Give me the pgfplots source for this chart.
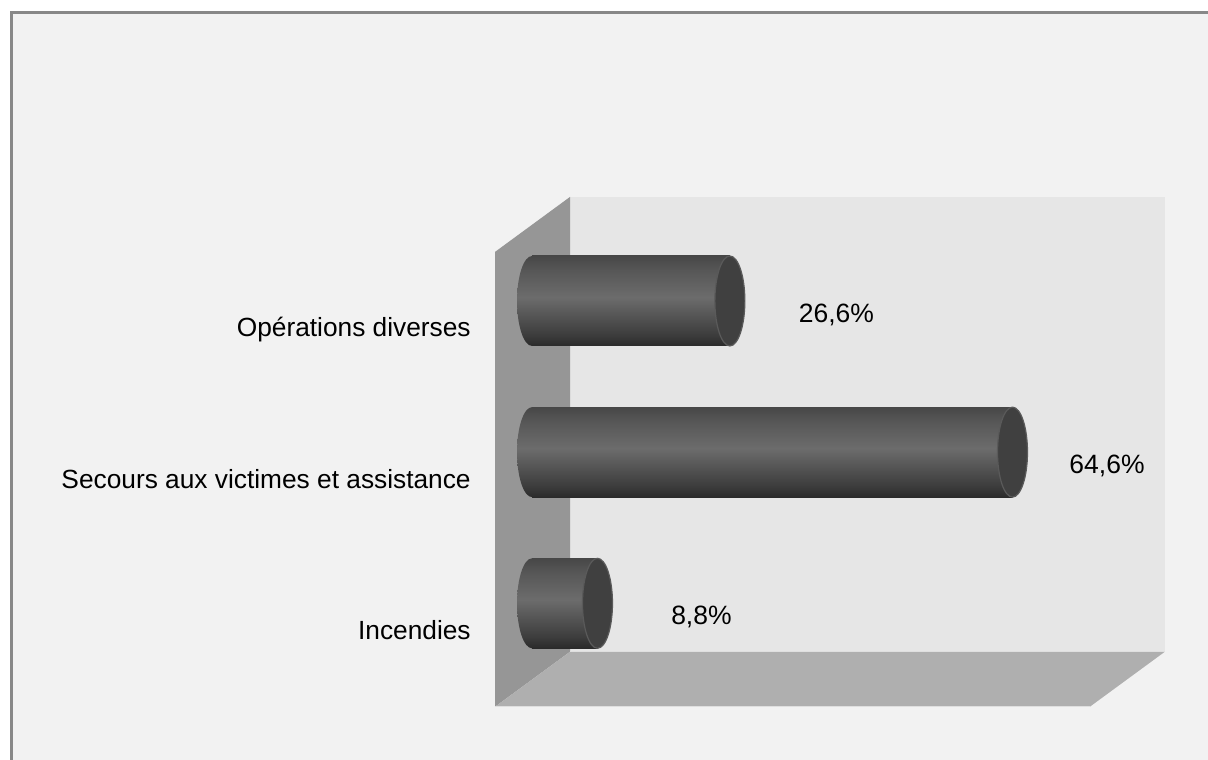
\documentclass[border=0pt]{standalone}
\usepackage{pgfplots}
\usepackage{pgfplotstable}
\pgfplotsset{compat=1.18}
\usepackage{fontspec}
\setmainfont{Liberation Sans}
\definecolor{cbot}{HTML}{2A2A2A}
\definecolor{clow}{HTML}{3C3C3C}
\definecolor{cmid}{HTML}{6C6C6C}
\definecolor{chi}{HTML}{575757}
\definecolor{ctop}{HTML}{474747}
\definecolor{capfill}{HTML}{404040}
\definecolor{capline}{HTML}{5A5A5A}
\definecolor{bgfill}{HTML}{F2F2F2}
\definecolor{frameline}{HTML}{888888}
\definecolor{backwall}{HTML}{E6E6E6}
\definecolor{sidewall}{HTML}{969696}
\definecolor{floorc}{HTML}{AFAFAF}
\pgfdeclareverticalshading{cyl}{100bp}{color(0bp)=(cbot); color(25bp)=(cbot); color(31bp)=(clow); color(52bp)=(cmid); color(67bp)=(chi); color(75bp)=(ctop); color(100bp)=(ctop)}
\pgfdeclareplotmark{cylend}{%
  \pgfpathellipse{\pgfpointorigin}{\pgfqpoint{7.5bp}{0bp}}{\pgfqpoint{0bp}{22.5bp}}%
  \pgfshadepath{cyl}{0}\pgfusepath{}}
\pgfdeclareplotmark{cylcap}{%
  \pgfpathellipse{\pgfpointorigin}{\pgfqpoint{7.5bp}{0bp}}{\pgfqpoint{0bp}{22.5bp}}%
  \pgfusepath{fill,stroke}}
\pgfplotstableread{
y  v  z
0  8.8  0
1  64.6 0
2  26.6 0
}\datatable
\pgfplotstableread{
y v
0 8.8
}\incendies
\pgfplotstableread{
y v
1 64.6
}\secours
\pgfplotstableread{
y v
2 26.6
}\operations
\pgfplotsset{
  capplot/.style={only marks, mark=cylcap,
    mark options={fill=capfill, draw=capline, line width=0.6bp},
    point meta=x,
    nodes near coords={\pgfmathprintnumber[use comma,fixed,fixed zerofill,precision=1,assume math mode=true]{\pgfplotspointmeta}\%},
    every node near coord/.append style={anchor=base west, inner sep=0pt, yshift=-10.75bp,
      font=\fontsize{13.3}{16}\selectfont, text=black}},
  cylbar/.style={xbar, bar shift=0pt, bar width=0.595, draw=none, shade, shading=cyl},
}
\begin{document}
\begin{tikzpicture}
\begin{scope}[x=0.5bp,y=-0.5bp]
  \fill[white] (0,0) rectangle (1208,760);
  \useasboundingbox (0,0) rectangle (1208,760);
  \filldraw[fill=bgfill, draw=frameline, line width=1.25bp] (11.3,12.3) rectangle (1230,790);
  \fill[backwall] (570,197) rectangle (1165,652);
  \fill[sidewall] (495,252) -- (570,197) -- (570,652) -- (495,707) -- cycle;
  \fill[floorc] (495,707) -- (570,652) -- (1165,652) -- (1090,707) -- cycle;
  \draw[white!60!floorc, line width=0.6bp] (570,652) -- (1165,652);
  \draw[white!60!floorc, line width=0.6bp] (495,707) -- (1090,707);
\end{scope}
\begin{axis}[
  at={(0,0)}, anchor=north west,
  scale only axis, width=604bp, height=380bp,
  xmin=-71.505, xmax=90.86, ymin=-1.035, ymax=3.991,
  clip=false,
  axis line style={draw=none},
  xtick=\empty,
  ytick={0,1,2},
  yticklabels={Incendies, Secours aux victimes et assistance, Opérations diverses},
  major tick length=0pt,
  yticklabel style={anchor=base east, inner sep=0pt, xshift=235.5bp, yshift=-18bp,
    font=\fontsize{13.2}{16}\selectfont, text=black},
  /pgf/number format/assume math mode=true,
]
\addplot[only marks, mark=cylend] table[x=z, y=y] {\datatable};
\addplot[cylbar] table[x=v, y=y] {\incendies};
\addplot[cylbar] table[x=v, y=y] {\secours};
\addplot[cylbar] table[x=v, y=y] {\operations};
\addplot[capplot, every node near coord/.append style={xshift=36.6bp}] table[x=v, y=y] {\incendies};
\addplot[capplot, every node near coord/.append style={xshift=28.2bp}] table[x=v, y=y] {\secours};
\addplot[capplot, every node near coord/.append style={xshift=34.2bp}] table[x=v, y=y] {\operations};
\end{axis}
\end{tikzpicture}
\end{document}
